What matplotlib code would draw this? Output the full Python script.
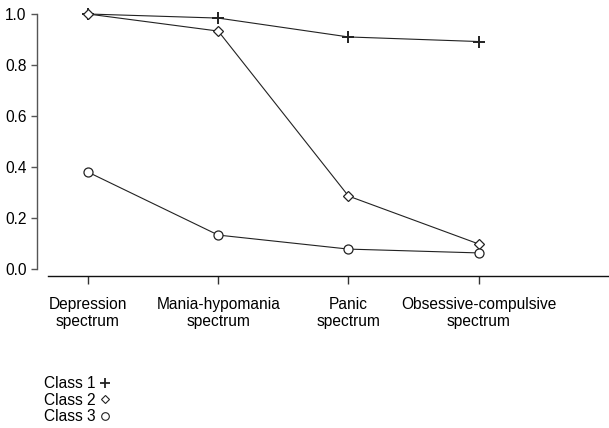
import matplotlib.pyplot as plt
from matplotlib.lines import Line2D

plt.rcParams['font.family'] = ['Liberation Sans', 'DejaVu Sans']

categories = ["Depression\nspectrum", "Mania-hypomania\nspectrum",
              "Panic\nspectrum", "Obsessive-compulsive\nspectrum"]
class1 = [1.0, 0.984, 0.91, 0.892]
class2 = [1.0, 0.933, 0.286, 0.098]
class3 = [0.380, 0.133, 0.078, 0.063]
yticks = [0.0, 0.2, 0.4, 0.6, 0.8, 1.0]

FS = 11.2

fig = plt.figure(figsize=(6.09, 4.28), dpi=100)
ax = fig.add_axes([48 / 609, 1 - 276 / 428, 1 - 48 / 609, 262 / 428])

x = range(len(categories))
style = dict(color="#222222", lw=0.8, clip_on=False, markersize=6.5,
             markerfacecolor="white", markeredgecolor="#222222", markeredgewidth=0.9)
ax.plot(x, class1, marker="+", markersize=8, markeredgewidth=1.4,
        color="#222222", lw=0.8, clip_on=False, zorder=3)
ax.plot(x, class2, marker="D", **{**style, "markersize": 5.2}, zorder=3)
ax.plot(x, class3, marker="o", **style, zorder=3)

ax.set_xlim(-0.307, 4.0)
ax.set_ylim(-0.0275, 1.0)

for s in ["top", "right"]:
    ax.spines[s].set_visible(False)
ax.spines["left"].set_position(("outward", 8))
ax.spines["left"].set_bounds(0, 1)
ax.spines["left"].set_color("#555555")
ax.spines["left"].set_linewidth(1.0)
ax.spines["bottom"].set_color("#111111")
ax.spines["bottom"].set_linewidth(1.0)

ax.set_yticks(yticks)
ax.set_yticklabels([f"{v:.1f}" for v in yticks])
ax.set_xticks(list(x))
ax.set_xticklabels(categories, linespacing=1.2)
ax.tick_params(axis="y", length=4.5, width=1.0, color="#555555", labelsize=FS, pad=3)
ax.tick_params(axis="x", length=6, width=1.0, color="#333333", labelsize=FS, pad=9)

handles = [
    Line2D([], [], ls="none", marker="+", markersize=7, markeredgewidth=1.3, color="#222222"),
    Line2D([], [], ls="none", marker="D", markersize=4.2, markerfacecolor="white",
           markeredgecolor="#222222", markeredgewidth=0.8),
    Line2D([], [], ls="none", marker="o", markersize=5.5, markerfacecolor="white",
           markeredgecolor="#222222", markeredgewidth=0.8),
]
fig.legend(handles, ["Class 1", "Class 2", "Class 3"], loc="upper left",
           bbox_to_anchor=(44 / 609, 1 - 376 / 428), frameon=False, markerfirst=False,
           handlelength=0.6, handletextpad=0.3, labelspacing=0.1, borderpad=0,
           borderaxespad=0, fontsize=FS)

fig.savefig("out.png", dpi=100)
